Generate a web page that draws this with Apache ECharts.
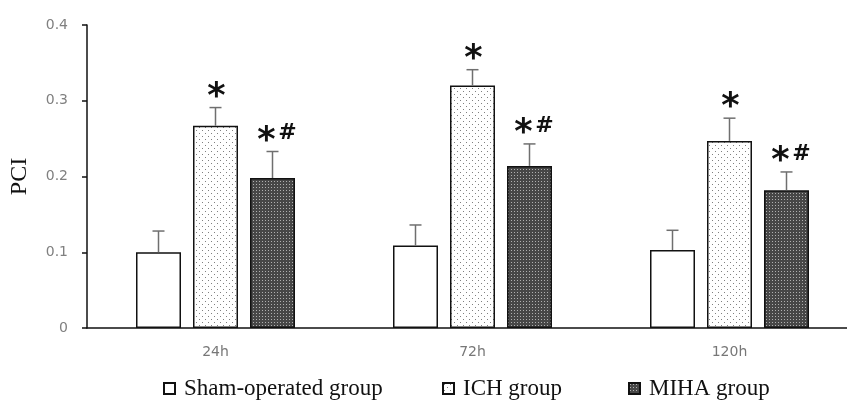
<!DOCTYPE html>
<html>
<head>
<meta charset="utf-8">
<script src="https://cdn.jsdelivr.net/npm/echarts@6/dist/echarts.min.js"></script>
<style>html,body{margin:0;padding:0;background:#fff}#c{width:847px;height:403px}</style>
</head>
<body>
<div id="c"></div>
<script>
const categories = ['24h', '72h', '120h'];
const seriesNames = ['Sham-operated group', 'ICH group', 'MIHA group'];
const shamMean = [0.100, 0.109, 0.103];
const shamSD   = [0.028, 0.027, 0.026];
const ichMean  = [0.267, 0.320, 0.247];
const ichSD    = [0.024, 0.021, 0.030];
const mihaMean = [0.198, 0.214, 0.182];
const mihaSD   = [0.035, 0.029, 0.024];
const ichMarks  = ['*', '*', '*'];
const mihaMarks = ['*#', '*#', '*#'];
const yTicks = [0, 0.1, 0.2, 0.3, 0.4];

function makePattern(bg, dot, step, stagger) {
  const c = document.createElement('canvas');
  c.width = step * (stagger ? 2 : 1);
  c.height = step * (stagger ? 2 : 1);
  const g = c.getContext('2d');
  g.fillStyle = bg; g.fillRect(0, 0, c.width, c.height);
  g.fillStyle = dot;
  g.fillRect(1, 1, 1, 1);
  if (stagger) g.fillRect(1 + step, 1 + step, 1, 1);
  return c;
}
const ichFill = { image: makePattern('#ffffff', '#808080', 3, true), repeat: 'repeat' };
const mihaFill = { image: makePattern('#474747', '#b0b0b0', 3, false), repeat: 'repeat' };

const BAR_W = 45, GAP = 12;
const GRID_LEFT = 87, BAND = 257;
const xMax = (847 - GRID_LEFT) / BAND - 0.5;

function errSeries(name, means, sds, marks, idx) {
  return {
    type: 'custom',
    name: name + '_err',
    z: 5,
    data: means.map((m, i) => [i, m, sds[i]]),
    renderItem: function (params, api) {
      const ci = api.value(0), m = api.value(1), sd = api.value(2);
      const mark = marks ? marks[ci] : '';
      const base = api.coord([ci, m]);
      const top = api.coord([ci, m + sd]);
      const x = base[0] + (idx - 1) * (BAR_W + GAP);
      const children = [
        { type: 'line', shape: { x1: x, y1: base[1], x2: x, y2: top[1] }, style: { stroke: '#6f6f6f', lineWidth: 1.5 } },
        { type: 'line', shape: { x1: x - 6, y1: top[1], x2: x + 6, y2: top[1] }, style: { stroke: '#6f6f6f', lineWidth: 1.5 } }
      ];
      if (mark) {
        const hasHash = mark.length > 1;
        children.push({ type: 'text', x: hasHash ? x - 6 : x + 1, y: top[1] - 10,
          style: { text: '*', align: 'center', verticalAlign: 'middle',
            fill: '#111', font: 'bold 35px "DejaVu Sans"' } });
        if (hasHash) {
          children.push({ type: 'text', x: x + 15, y: top[1] - 18,
            style: { text: '#', align: 'center', verticalAlign: 'middle',
              fill: '#111', font: 'bold 22px "DejaVu Sans"' } });
        }
      }
      return { type: 'group', children: children };
    }
  };
}

const legendLefts = [163, 442, 628];
const chart = echarts.init(document.getElementById('c'), null, { renderer: 'canvas' });
chart.setOption({
  animation: false,
  backgroundColor: '#fff',
  grid: { left: GRID_LEFT, right: 0, top: 25, bottom: 75, containLabel: false },
  legend: seriesNames.map((n, i) => ({
    data: [n],
    left: legendLefts[i], top: 377, padding: 0,
    itemWidth: 11, itemHeight: 11,
    icon: 'rect',
    textStyle: { fontFamily: 'Liberation Serif', fontSize: 23, color: '#111', padding: [0, 0, 0, 4] }
  })),
  xAxis: {
    type: 'value',
    min: -0.5, max: xMax,
    axisLine: { show: true, onZero: false, lineStyle: { color: '#111', width: 1.5 } },
    axisTick: { show: false },
    splitLine: { show: false },
    axisLabel: { color: '#777', fontFamily: 'DejaVu Sans', fontSize: 14, margin: 17,
      customValues: [0, 1, 2], formatter: v => categories[Math.round(v)] || '' }
  },
  yAxis: {
    type: 'value',
    min: 0, max: 0.4, interval: 0.1,
    name: 'PCI', nameLocation: 'middle', nameGap: 55, nameRotate: 90,
    nameTextStyle: { fontFamily: 'Liberation Serif', fontSize: 24, color: '#111' },
    axisLine: { show: true, onZero: false, lineStyle: { color: '#111', width: 1.5 } },
    axisTick: { show: true, length: 5, lineStyle: { color: '#111', width: 1.5 } },
    splitLine: { show: false },
    axisLabel: { color: '#808080', fontFamily: 'DejaVu Sans', fontSize: 14, margin: 19,
      formatter: v => { const r = Math.round(v * 10) / 10; return yTicks.indexOf(r) >= 0 ? (r === 0 ? '0' : String(r)) : ''; } }
  },
  series: [
    { type: 'bar', name: seriesNames[0], data: shamMean.map((v, i) => [i, v]), barWidth: BAR_W, barGap: (GAP / BAR_W * 100) + '%',
      itemStyle: { color: '#fff', borderColor: '#111', borderWidth: 1.5 } },
    { type: 'bar', name: seriesNames[1], data: ichMean.map((v, i) => [i, v]), barWidth: BAR_W,
      itemStyle: { color: ichFill, borderColor: '#111', borderWidth: 1.5 } },
    { type: 'bar', name: seriesNames[2], data: mihaMean.map((v, i) => [i, v]), barWidth: BAR_W,
      itemStyle: { color: mihaFill, borderColor: '#111', borderWidth: 1.5 } },
    errSeries('sham', shamMean, shamSD, null, 0),
    errSeries('ich', ichMean, ichSD, ichMarks, 1),
    errSeries('miha', mihaMean, mihaSD, mihaMarks, 2)
  ]
});
</script>
</body>
</html>
